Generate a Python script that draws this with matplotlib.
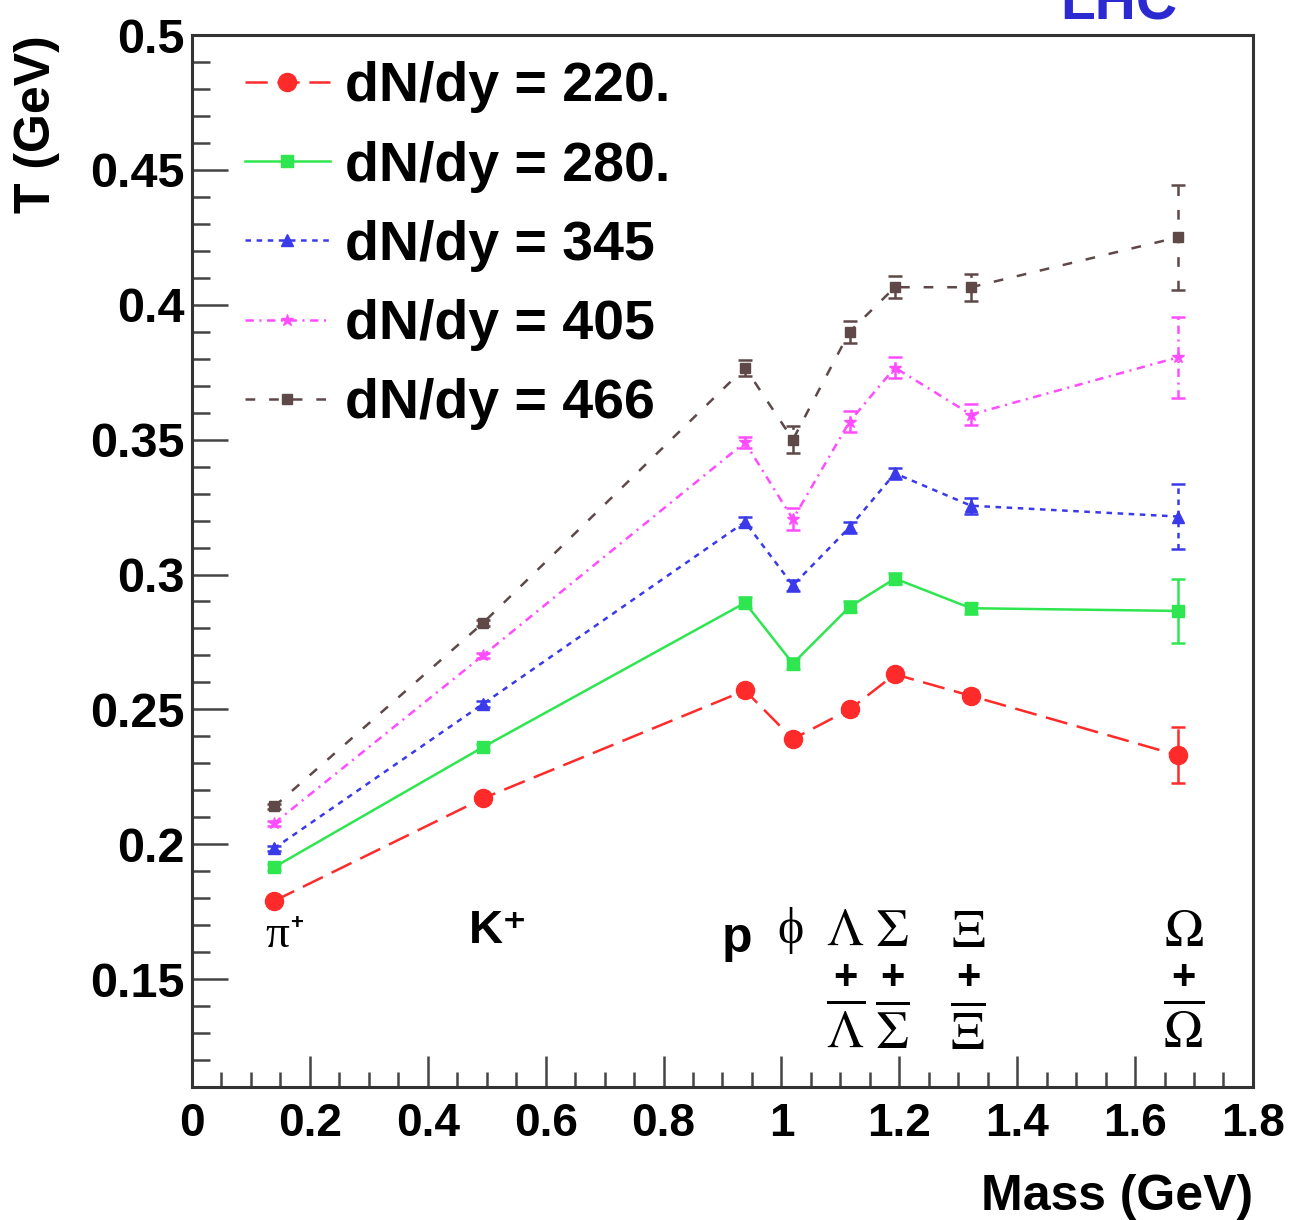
import numpy as np
import matplotlib.pyplot as plt

plt.rcParams['font.family'] = ['Liberation Sans', 'DejaVu Sans']
plt.rcParams['mathtext.fontset'] = 'stix'
plt.rcParams['lines.scale_dashes'] = False

# particle masses (GeV)
mass = [0.1396, 0.4937, 0.9383, 1.0195, 1.1157, 1.1926, 1.3217, 1.6725]

# fitted temperature per particle for each multiplicity
T_220 = [0.179, 0.217, 0.257, 0.239, 0.250, 0.263, 0.255, 0.233]
T_280 = [0.1915, 0.236, 0.2895, 0.267, 0.288, 0.2985, 0.2875, 0.2865]
T_345 = [0.1985, 0.252, 0.3195, 0.296, 0.3175, 0.3375, 0.3255, 0.3215]
T_405 = [0.2078, 0.270, 0.349, 0.3205, 0.3567, 0.3767, 0.3593, 0.3805]
T_466 = [0.214, 0.282, 0.3767, 0.350, 0.390, 0.4065, 0.4065, 0.425]

err_220 = [0.001, 0.001, 0.002, 0.002, 0.002, 0.002, 0.002, 0.0104]
err_280 = [0.001, 0.001, 0.002, 0.002, 0.002, 0.002, 0.002, 0.012]
err_345 = [0.001, 0.001, 0.002, 0.002, 0.002, 0.002, 0.003, 0.012]
err_405 = [0.001, 0.001, 0.002, 0.004, 0.004, 0.004, 0.004, 0.015]
err_466 = [0.001, 0.001, 0.003, 0.005, 0.004, 0.004, 0.005, 0.0195]

labels = ["dN/dy = 220.", "dN/dy = 280.", "dN/dy = 345", "dN/dy = 405", "dN/dy = 466"]

series = [T_220, T_280, T_345, T_405, T_466]
errors = [err_220, err_280, err_345, err_405, err_466]
colors = ['#ff2a2a', '#2ee64f', '#3a3aea', '#ff4cff', '#5e4848']
markers = ['o', 's', '^', '*', 's']
msizes = [13, 9, 8, 9, 7]
styles = [(0, (16, 7)), '-', (0, (4, 4)), (0, (6, 4, 1.5, 4)), (0, (7, 10))]

fig = plt.figure(figsize=(12.96, 12.2), dpi=100)
ax = fig.add_axes([0.1481, 0.109, 0.8187, 0.8623])

handles = []
for i in range(len(series)):
    l, = ax.plot(mass, series[i], color=colors[i], ls=styles[i], lw=1.8,
                 marker=markers[i], ms=msizes[i], mec=colors[i], mfc=colors[i],
                 label=labels[i])
    eb = ax.errorbar(mass, series[i], yerr=errors[i], fmt='none', ecolor=colors[i],
                     elinewidth=1.8, capsize=5, capthick=1.8)
    eb[2][0].set_linestyle(styles[i])
    handles.append(l)

ax.set_xlim(0, 1.8)
ax.set_ylim(0.11, 0.5)
ax.set_xticks(np.arange(0, 1.81, 0.2))
ax.set_xticks(np.arange(0, 1.81, 0.05), minor=True)
ax.set_yticks(np.arange(0.15, 0.501, 0.05))
ax.set_yticks(np.arange(0.12, 0.501, 0.01), minor=True)
ax.xaxis.set_major_formatter(plt.FuncFormatter(lambda v, p: "%g" % round(v, 2)))
ax.yaxis.set_major_formatter(plt.FuncFormatter(lambda v, p: "%g" % round(v, 2)))

for s in ax.spines.values():
    s.set_linewidth(2.2)
    s.set_color('#333333')
ax.tick_params(axis='x', which='major', direction='in', length=22, width=1.8,
               labelsize=33, pad=11, color='#444444')
ax.tick_params(axis='x', which='minor', direction='in', length=11, width=1.8,
               color='#444444')
ax.tick_params(axis='y', which='major', direction='in', length=26, width=1.8,
               labelsize=35, pad=5, color='#444444')
ax.tick_params(axis='y', which='minor', direction='in', length=13, width=1.8,
               color='#444444')
for t in ax.get_xticklabels() + ax.get_yticklabels():
    t.set_fontweight('bold')

ax.legend(handles=handles, loc='upper left', bbox_to_anchor=(0.05, 0.975),
          frameon=False, prop={'size': 40, 'weight': 'bold'},
          handlelength=1.53, handletextpad=0.27,
          labelspacing=0.49, borderpad=0, borderaxespad=0)

# particle labels along the bottom
serif = ['Liberation Serif', 'DejaVu Serif']
ax.text(0.145, 0.166, 'π', fontsize=34, ha='center', va='center', family=serif)
ax.text(0.178, 0.1705, '+', fontsize=16, ha='center', va='center', weight='bold')
ax.text(0.52, 0.168, 'K⁺', fontsize=34, ha='center', va='center', weight='bold')
ax.text(0.925, 0.165, 'p', fontsize=36, ha='center', va='center', weight='bold')
ax.text(1.015, 0.168, 'ϕ', fontsize=36, ha='center', va='center', family=serif)
for x, g in [(1.108, r'\Lambda'), (1.188, r'\Sigma'), (1.317, r'\Xi'),
             (1.682, r'\Omega')]:
    ax.text(x, 0.1675, '$%s$' % g, fontsize=38, ha='center', va='center')
    ax.text(x, 0.1505, '+', fontsize=30, ha='center', va='center', weight='bold')
    # antiparticle: symbol with a bar over it
    ax.text(x, 0.1302, r'$\overline{%s}$' % g, fontsize=38, ha='center',
            va='center')

ax.set_xlabel('Mass (GeV)', fontsize=36, loc='right', labelpad=20,
              fontweight='bold')
ax.set_ylabel('T (GeV)', fontsize=36, loc='top', labelpad=22,
              fontweight='bold')

fig.text(1060 / 1296, 1 - 19 / 1220, 'LHC', color='#2a2ad0', fontsize=41,
         ha='left', va='baseline', weight='bold')

fig.savefig('out.png', dpi=100)
